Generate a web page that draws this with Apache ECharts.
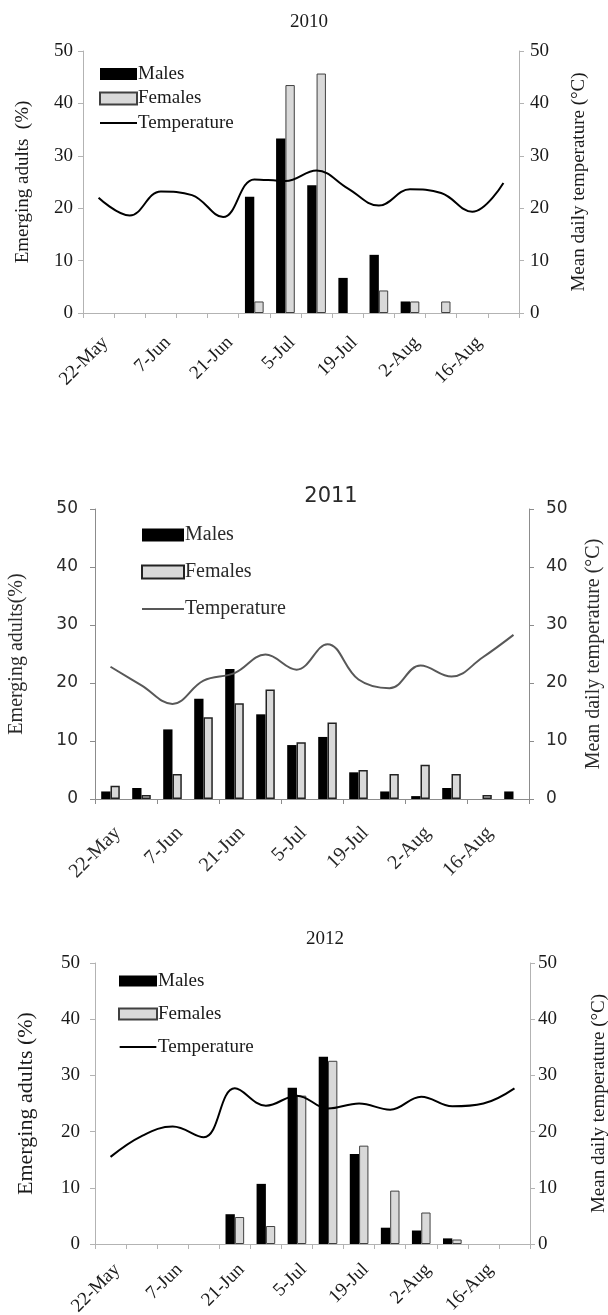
<!DOCTYPE html>
<html>
<head>
<meta charset="utf-8">
<script src="https://cdn.jsdelivr.net/npm/echarts@6/dist/echarts.min.js"></script>
<style>
html,body{margin:0;padding:0;background:#fff;width:608px;height:1315px;overflow:hidden}
.p{position:absolute;left:0;top:0;width:608px;height:1315px}
</style>
</head>
<body>
<div id="c1" class="p"></div>
<div id="c2" class="p"></div>
<div id="c3" class="p"></div>
<script>
// Sampling dates (every other one is labelled on the axis)
const categories = ['22-May','31-May','7-Jun','14-Jun','21-Jun','28-Jun','5-Jul','12-Jul','19-Jul','26-Jul','2-Aug','9-Aug','16-Aug','23-Aug'];
const seriesNames = ['Males','Females','Temperature'];
const yTicks = [0, 10, 20, 30, 40, 50];

// 2010
const males2010   = [0, 0, 0, 0, 0, 22.2, 33.3, 24.4, 6.7, 11.1, 2.2, 0, 0, 0];
const females2010 = [0, 0, 0, 0, 0, 2.2, 43.5, 45.7, 0, 4.3, 2.2, 2.2, 0, 0];
const temp2010    = [22.0, 18.6, 23.2, 22.5, 18.3, 25.5, 25.2, 27.2, 23.8, 20.5, 23.6, 22.9, 19.3, 24.8];

// 2011
const males2011   = [1.3, 1.9, 12.0, 17.3, 22.4, 14.6, 9.3, 10.7, 4.6, 1.3, 0.5, 1.9, 0, 1.3];
const females2011 = [2.3, 0.7, 4.3, 14.1, 16.5, 18.9, 9.8, 13.2, 5.0, 4.3, 5.9, 4.3, 0.7, 0];
const temp2011    = [22.8, 19.6, 16.4, 20.4, 21.7, 24.9, 22.3, 26.7, 20.6, 19.1, 23.0, 21.1, 24.4, 28.3];

// 2012
const males2012   = [0, 0, 0, 0, 5.3, 10.7, 27.8, 33.3, 16.0, 2.9, 2.4, 1.0, 0, 0];
const females2012 = [0, 0, 0, 0, 4.8, 3.2, 26.4, 32.6, 17.5, 9.5, 5.6, 0.8, 0, 0];
const temp2012    = [15.5, 19.2, 20.9, 19.0, 27.7, 24.6, 26.4, 24.1, 25.0, 23.9, 26.2, 24.5, 25.0, 27.7];

const SERIF = '"Liberation Serif", "Times New Roman", serif';
const SANS = '"DejaVu Sans", Verdana, sans-serif';
// thin horizontal bar centred in a 40x12 box (corner specks fix the box size)
const LINE_ICON = 'path://M0,0L0.01,0L0.01,0.01Z M0,5L40,5L40,7L0,7Z M39.99,11.99L40,12L39.99,12Z';

// zero bars are not drawn in the reference
const bars = arr => arr.map(v => (v === 0 ? null : v));

function panel(el, o, males, females, temps) {
  const chart = echarts.init(el, null, { renderer: 'canvas' });
  const yMin = yTicks[0], yMax = yTicks[yTicks.length - 1], yInt = yTicks[1] - yTicks[0];
  const yAxisBase = (pos, nameGap, labelMargin) => ({
    type: 'value', position: pos, min: yMin, max: yMax, interval: yInt,
    splitLine: { show: false },
    axisLine: { show: true, lineStyle: { color: o.axisColor, width: 1 } },
    axisTick: { show: true, inside: false, length: 5, lineStyle: { color: o.axisColor } },
    axisLabel: { margin: labelMargin, fontFamily: o.tickFont, fontSize: o.tickSize, color: o.textColor },
    nameLocation: 'middle', nameRotate: 90, nameGap: nameGap,
    nameTextStyle: { fontFamily: SERIF, fontSize: o.nameSize, color: o.textColor }
  });
  const left = yAxisBase('left', o.leftNameGap, o.leftLabelMargin);
  left.name = o.leftName;
  left.nameTextStyle.fontSize = o.leftNameSize || o.nameSize;
  const right = yAxisBase('right', o.rightNameGap, o.rightLabelMargin);
  right.name = 'Mean daily temperature (°C)';
  chart.setOption({
    animation: false,
    backgroundColor: 'transparent',
    title: {
      text: o.title, left: o.titleX, top: o.titleY, textAlign: 'center', padding: 0,
      textStyle: { fontFamily: o.titleFont, fontSize: o.titleSize, fontWeight: 'normal', color: o.textColor }
    },
    legend: {
      orient: 'vertical', left: o.legLeft, top: o.legTop, padding: 0,
      itemWidth: o.legW, itemHeight: o.legH, itemGap: o.legGap,
      data: [
        { name: seriesNames[0], icon: 'rect' },
        { name: seriesNames[1], icon: 'rect' },
        { name: seriesNames[2], icon: LINE_ICON }
      ],
      textStyle: { fontFamily: SERIF, fontSize: o.legSize, color: o.textColor, lineHeight: 20, padding: [0, 0, 0, -4] }
    },
    grid: { left: o.gl, top: o.gt, width: o.gw, height: o.gh, containLabel: false, outerBoundsMode: 'none' },
    xAxis: {
      type: 'category', data: categories, boundaryGap: true,
      axisLine: { show: true, lineStyle: { color: o.axisColor, width: 1 } },
      axisTick: { show: true, interval: o.tickInterval, length: 5, alignWithLabel: false, lineStyle: { color: o.axisColor } },
      axisLabel: {
        interval: 1, rotate: 45, margin: o.xMargin, align: 'right', verticalAlign: 'top',
        fontFamily: SERIF, fontSize: o.xSize, color: o.textColor
      },
      splitLine: { show: false }
    },
    yAxis: [left, right],
    series: [
      {
        name: seriesNames[0], type: 'bar', yAxisIndex: 0, data: bars(males),
        barWidth: '30%', barGap: '0%',
        itemStyle: { color: '#000000' }
      },
      {
        name: seriesNames[1], type: 'bar', yAxisIndex: 0, data: bars(females),
        barWidth: '30%', barGap: '0%',
        itemStyle: { color: '#d9d9d9', borderColor: o.femBorder, borderWidth: o.femBorderW }
      },
      {
        name: seriesNames[2], type: 'line', yAxisIndex: 1, data: temps,
        smooth: 0.4, symbol: 'none', showSymbol: false,
        lineStyle: { color: o.lineColor, width: 2 },
        itemStyle: { color: o.lineColor }
      }
    ]
  });
}

panel(document.getElementById('c1'), {
  title: '2010', titleX: 309, titleY: 13, titleFont: SERIF, titleSize: 19,
  gl: 83, gt: 51, gw: 436, gh: 262,
  axisColor: '#b3b3b3', textColor: '#1a1a1a', lineColor: '#000000',
  tickFont: SERIF, tickSize: 19, leftLabelMargin: 10, rightLabelMargin: 11,
  nameSize: 19, leftName: 'Emerging adults  (%)', leftNameGap: 50, rightNameGap: 51,
  legLeft: 99, legTop: 64, legW: 37, legH: 12, legGap: 4.5, legSize: 19,
  tickInterval: 0, xMargin: 20, xSize: 19,
  femBorder: '#404040', femBorderW: 1
}, males2010, females2010, temp2010);

panel(document.getElementById('c2'), {
  title: '2011', titleX: 331, titleY: 486, titleFont: SANS, titleSize: 21,
  gl: 95, gt: 509, gw: 434, gh: 290,
  axisColor: '#8c8c8c', textColor: '#2a2a2a', lineColor: '#585858',
  tickFont: SANS, tickSize: 17, leftLabelMargin: 17, rightLabelMargin: 17,
  nameSize: 20, leftName: 'Emerging adults(%)', leftNameGap: 68, rightNameGap: 55,
  legLeft: 141, legTop: 525, legW: 42, legH: 13, legGap: 17, legSize: 20,
  tickInterval: 1, xMargin: 24, xSize: 20,
  femBorder: '#222222', femBorderW: 1.5
}, males2011, females2011, temp2011);

panel(document.getElementById('c3'), {
  title: '2012', titleX: 325, titleY: 930, titleFont: SERIF, titleSize: 19,
  gl: 95, gt: 963, gw: 435, gh: 281,
  axisColor: '#b3b3b3', textColor: '#1a1a1a', lineColor: '#000000',
  tickFont: SERIF, tickSize: 19, leftLabelMargin: 15, rightLabelMargin: 8,
  nameSize: 19, leftNameSize: 22, leftName: 'Emerging adults (%)', leftNameGap: 58, rightNameGap: 60,
  legLeft: 118, legTop: 971, legW: 38, legH: 11, legGap: 13, legSize: 19,
  tickInterval: 0, xMargin: 16, xSize: 19,
  femBorder: '#404040', femBorderW: 1
}, males2012, females2012, temp2012);
</script>
</body>
</html>
